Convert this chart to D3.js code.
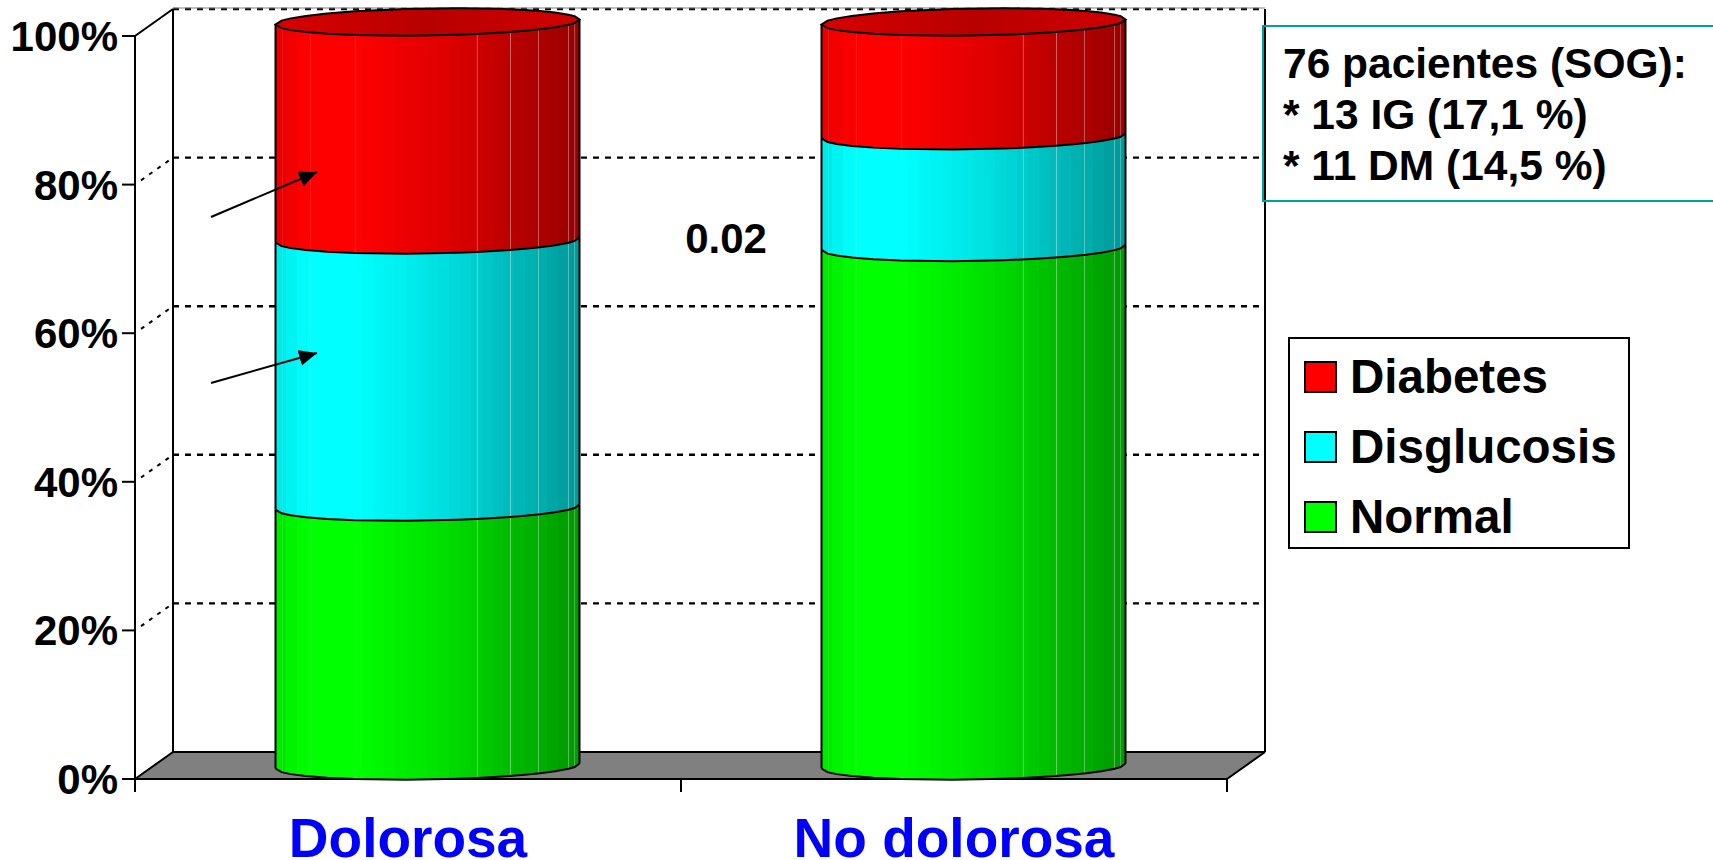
<!DOCTYPE html>
<html>
<head>
<meta charset="utf-8">
<script src="https://cdnjs.cloudflare.com/ajax/libs/d3/7.8.5/d3.min.js"></script>
<style>
  html, body { margin: 0; padding: 0; background: #fff; overflow: hidden; }
  svg { display: block; }
  text { font-family: "Liberation Sans", Arial, sans-serif; font-weight: 700; fill: #000; }
</style>
</head>
<body>
<svg id="chart" width="1713" height="860"></svg>
<script>
// Glucose tolerance by neuropathy type, stacked to 100 %
const categories = ["Dolorosa", "No dolorosa"];
const seriesNames = ["Normal", "Disglucosis", "Diabetes"];
const normalValues = [34.8, 69.7];
const disglucosisValues = [35.9, 15];
const diabetesValues = [29.3, 15.3];
const seriesColors = ["#00ff00", "#00ffff", "#ff0000"];
const tickValues = [0, 20, 40, 60, 80, 100];
const noteLines = ["76 pacientes (SOG):", "* 13 IG (17,1 %)", "* 11 DM (14,5 %)"];
const pValueLabel = "0.02";
const legendOrder = ["Diabetes", "Disglucosis", "Normal"];

// Plot box: front plane plus the depth offset of the back wall
const frontLeft = 135, frontRight = 1227, frontTop = 36, frontBottom = 779;
const depthX = 38, depthY = 27;

const svg = d3.select("#chart");
const x = d3.scaleBand().domain(categories).range([frontLeft, frontRight]);
const y = d3.scaleLinear().domain([0, 100]).range([frontBottom, frontTop]);

// Floor
svg.append("path")
  .attr("d", d3.line()([[frontLeft, frontBottom], [frontLeft + depthX, frontBottom - depthY],
    [frontRight + depthX, frontBottom - depthY], [frontRight, frontBottom]]) + "Z")
  .attr("fill", "#808080");

// Back-wall gridlines and their continuation down the side wall
const grid = svg.append("g");
tickValues.filter(d => d > 0).forEach(d => {
  grid.append("line")
    .attr("x1", frontLeft + depthX).attr("x2", frontRight + depthX)
    .attr("y1", y(d) - depthY).attr("y2", y(d) - depthY)
    .attr("stroke", "#000").attr("stroke-width", 2.4).attr("stroke-dasharray", "6 6");
  if (d < 100) {
    grid.append("line")
      .attr("x1", frontLeft + 6).attr("x2", frontLeft + depthX)
      .attr("y1", y(d) - depthY * 6 / depthX).attr("y2", y(d) - depthY)
      .attr("stroke", "#000").attr("stroke-width", 2).attr("stroke-dasharray", "4 6");
  }
});

// Wall and floor outlines
const frame = [
  [[frontLeft + depthX, frontTop - depthY], [frontLeft + depthX, frontBottom - depthY]],
  [[frontRight + depthX, frontTop - depthY], [frontRight + depthX, frontBottom - depthY]],
  [[frontLeft + depthX, frontBottom - depthY], [frontRight + depthX, frontBottom - depthY]],
  [[frontLeft, frontBottom], [frontLeft + depthX, frontBottom - depthY]],
  [[frontRight, frontBottom], [frontRight + depthX, frontBottom - depthY]],
  [[frontLeft, frontTop], [frontLeft + depthX, frontTop - depthY]],
  [[frontLeft, frontBottom], [frontRight, frontBottom]],
  [[frontLeft, frontTop], [frontLeft, frontBottom]]
];
svg.append("g").selectAll("path").data(frame).join("path")
  .attr("d", d => d3.line()(d))
  .attr("fill", "none").attr("stroke", "#000").attr("stroke-width", 2);
svg.append("line")
  .attr("x1", frontLeft + depthX).attr("x2", frontRight + depthX)
  .attr("y1", frontTop - depthY - 1).attr("y2", frontTop - depthY - 1)
  .attr("stroke", "#808080").attr("stroke-width", 1);

// Value axis ticks and labels
const yAxis = svg.append("g");
yAxis.selectAll("line").data(tickValues).join("line")
  .attr("x1", frontLeft - 13).attr("x2", frontLeft)
  .attr("y1", d => y(d)).attr("y2", d => y(d))
  .attr("stroke", "#000").attr("stroke-width", 2);
yAxis.selectAll("text").data(tickValues).join("text")
  .attr("x", frontLeft - 17).attr("y", d => y(d) + 15)
  .attr("text-anchor", "end").attr("font-size", 42)
  .text(d => d + "%");

// Category separators and labels
const catEdges = [frontLeft, x(categories[1]), frontRight];
svg.append("g").selectAll("line").data(catEdges).join("line")
  .attr("x1", d => d).attr("x2", d => d)
  .attr("y1", frontBottom).attr("y2", frontBottom + 13)
  .attr("stroke", "#000").attr("stroke-width", 2);
svg.append("g").selectAll("text").data(categories).join("text")
  .attr("x", d => x(d) + x.bandwidth() / 2).attr("y", 857)
  .attr("text-anchor", "middle").attr("font-size", 55)
  .style("fill", "#0000ff")
  .text(d => d);

// Shading across a cylinder: stepped bands, with faceted rim vertices
const shadeStops = [[0, .9], [.04, .94], [.08, .98], [.12, 1], [.27, 1], [.36, .96], [.45, .92],
  [.56, .87], [.66, .81], [.77, .73], [.87, .68], [.96, .62], [1, .60]];
const shadeAt = d3.scaleLinear().domain(shadeStops.map(s => s[0])).range(shadeStops.map(s => s[1]));
const bandCount = 28;
const dim = (hex, k) => {
  const c = d3.rgb(hex);
  return d3.rgb(c.r * k, c.g * k, c.b * k).formatHex();
};
const defs = svg.append("defs");
seriesColors.forEach((color, i) => {
  const g = defs.append("linearGradient").attr("id", "shade" + i)
    .attr("x1", 0).attr("x2", 1).attr("y1", 0).attr("y2", 0);
  d3.range(bandCount).forEach(k => {
    const fill = dim(color, shadeAt((k + .5) / bandCount));
    g.append("stop").attr("offset", k / bandCount).attr("stop-color", fill);
    g.append("stop").attr("offset", (k + 1) / bandCount).attr("stop-color", fill);
  });
});
const capGradient = defs.append("linearGradient").attr("id", "cap")
  .attr("x1", 0).attr("x2", 1).attr("y1", 0).attr("y2", 0);
[[0, "#d80000"], [.25, "#c80000"], [.5, "#b80000"], [.75, "#c40000"], [1, "#d00000"]].forEach(s =>
  capGradient.append("stop").attr("offset", s[0]).attr("stop-color", s[1]));

const rimVertices = [0, .02, .05, .1, .17, .26, .43, .6, .66, .72, .77, .82, .87, .92, .964, .984, 1];
const facetLines = [[.023, .1], [.115, .1], [.263, .12], [.664, .3], [.773, .38], [.865, .35], [.964, .35], [.984, .3]];
const cylWidth = 304, ry = 13.5, tilt = 2.5;
const centerY = d3.scaleLinear().domain([0, 100]).range([frontBottom - 13, frontTop - 14]);
const frontEdge = (f, v) => centerY(v) + ry * Math.sqrt(Math.max(0, 1 - (2 * f - 1) ** 2)) + tilt * (1 - 2 * f);
const backEdge = (f, v) => centerY(v) - ry * Math.sqrt(Math.max(0, 1 - (2 * f - 1) ** 2)) + tilt * (1 - 2 * f);

const stacks = d3.stack().keys(seriesNames)(categories.map((c, i) => ({
  Normal: normalValues[i], Disglucosis: disglucosisValues[i], Diabetes: diabetesValues[i]
})));
const line = d3.line();

categories.forEach((cat, ci) => {
  const left = x(cat) + x.bandwidth() / 2 + depthX / 2 - cylWidth / 2 + 0.5;
  const px = f => left + f * cylWidth;
  const g = svg.append("g");
  stacks.forEach((layer, si) => {
    const [v0, v1] = layer[ci];
    const upper = rimVertices.map(f => [px(f), frontEdge(f, v1)]);
    const lower = rimVertices.map(f => [px(f), frontEdge(f, v0)]).reverse();
    g.append("path").attr("d", line(upper.concat(lower)) + "Z")
      .attr("fill", `url(#shade${si})`);
    facetLines.forEach(([f, a]) => {
      g.append("line").attr("x1", px(f)).attr("x2", px(f))
        .attr("y1", frontEdge(f, v1)).attr("y2", frontEdge(f, v0))
        .attr("stroke", "#fff").attr("stroke-opacity", a).attr("stroke-width", 1);
    });
    g.append("path").attr("d", line(lower))
      .attr("fill", "none").attr("stroke", "#000").attr("stroke-width", 2);
    g.append("line").attr("x1", px(0)).attr("x2", px(0))
      .attr("y1", frontEdge(0, v1)).attr("y2", frontEdge(0, v0))
      .attr("stroke", "#000").attr("stroke-width", 2);
    g.append("line").attr("x1", px(1)).attr("x2", px(1))
      .attr("y1", frontEdge(1, v1)).attr("y2", frontEdge(1, v0))
      .attr("stroke", "#000").attr("stroke-width", 2);
  });
  // Top cap of the stack
  const capFront = rimVertices.map(f => [px(f), frontEdge(f, 100)]);
  const capBack = rimVertices.map(f => [px(f), backEdge(f, 100)]).reverse();
  g.append("path").attr("d", line(capFront.concat(capBack)) + "Z")
    .attr("fill", "url(#cap)").attr("stroke", "#000").attr("stroke-width", 2);
});

// Significance label between the cylinders
svg.append("text").attr("x", 726).attr("y", 253)
  .attr("text-anchor", "middle").attr("font-size", 42).text(pValueLabel);

// Arrows on the first cylinder
defs.append("marker").attr("id", "arrowHead").attr("markerUnits", "userSpaceOnUse")
  .attr("markerWidth", 20).attr("markerHeight", 18).attr("refX", 18).attr("refY", 8)
  .attr("orient", "auto")
  .append("path").attr("d", "M0,0L18,8L0,16Z").attr("fill", "#000");
const arrowTips = [[[211, 217], [317, 172]], [[211, 383], [317, 353]]];
svg.append("g").selectAll("line").data(arrowTips).join("line")
  .attr("x1", d => d[0][0]).attr("y1", d => d[0][1])
  .attr("x2", d => d[1][0]).attr("y2", d => d[1][1])
  .attr("stroke", "#000").attr("stroke-width", 2)
  .attr("marker-end", "url(#arrowHead)");

// Sample-size note: an open frame, so the wall stays visible behind its edge
svg.append("rect").attr("x", 1263).attr("y", 26).attr("width", 460).attr("height", 175)
  .attr("fill", "none").attr("stroke", "#00a0a0").attr("stroke-width", 2);
svg.append("g").selectAll("text").data(noteLines).join("text")
  .attr("x", 1283).attr("y", (d, i) => 78 + i * 51)
  .attr("font-size", 42.5).text(d => d);

// Legend
svg.append("rect").attr("x", 1289).attr("y", 338).attr("width", 340).attr("height", 210)
  .attr("fill", "#fff").attr("stroke", "#000").attr("stroke-width", 2);
const legend = svg.append("g").selectAll("g").data(legendOrder).join("g")
  .attr("transform", (d, i) => `translate(1305,${362 + i * 70})`);
legend.append("rect").attr("width", 31).attr("height", 30)
  .attr("fill", d => seriesColors[seriesNames.indexOf(d)])
  .attr("stroke", "#000").attr("stroke-width", 2);
legend.append("text").attr("x", 45).attr("y", 31).attr("font-size", 47.5).text(d => d);
</script>
</body>
</html>
